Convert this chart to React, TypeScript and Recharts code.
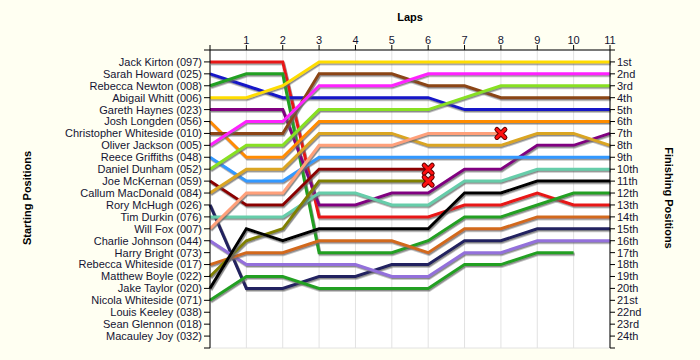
import React from "react";
import { CartesianGrid, Line, LineChart, XAxis, YAxis } from "recharts";

const laps = [0, 1, 2, 3, 4, 5, 6, 7, 8, 9, 10, 11];
const positionTicks = [0, 1, 2, 3, 4, 5, 6, 7, 8, 9, 10, 11, 12, 13, 14, 15, 16, 17, 18, 19, 20, 21, 22, 23, 24, 25];

const starters = [
  "Jack Kirton (097)", "Sarah Howard (025)", "Rebecca Newton (008)", "Abigail Whitt (006)",
  "Gareth Haynes (023)", "Josh Longden (056)", "Christopher Whiteside (010)", "Oliver Jackson (005)",
  "Reece Griffiths (048)", "Daniel Dunham (052)", "Joe McKernan (059)", "Callum MacDonald (084)",
  "Rory McHugh (026)", "Tim Durkin (076)", "Will Fox (007)", "Charlie Johnson (044)",
  "Harry Bright (073)", "Rebecca Whiteside (017)", "Matthew Boyle (022)", "Jake Taylor (020)",
  "Nicola Whiteside (071)", "Louis Keeley (038)", "Sean Glennon (018)", "Macauley Joy (032)",
];

const finishLabels = [
  "1st", "2nd", "3rd", "4th", "5th", "6th", "7th", "8th", "9th", "10th", "11th", "12th",
  "13th", "14th", "15th", "16th", "17th", "18th", "19th", "20th", "21st", "22nd", "23rd", "24th",
];

// position per lap (lap 0 = grid), null = not running
const jackKirton = [1, 1, 1, 14, 14, 14, 14, 13, 13, 12, 13, 13];
const sarahHoward = [2, 3, 4, 4, 4, 4, 4, 5, 5, 5, 5, 5];
const rebeccaNewton = [3, 2, 2, 17, 17, 17, 16, 14, 14, 13, 12, 12];
const abigailWhitt = [4, 4, 3, 1, 1, 1, 1, 1, 1, 1, 1, 1];
const garethHaynes = [5, 5, 5, 13, 13, 12, 12, 10, 10, 8, 8, 7];
const joshLongden = [6, 9, 9, 6, 6, 6, 6, 6, 6, 6, 6, 6];
const christopherWhiteside = [7, 7, 7, 2, 2, 2, 3, 3, 4, 4, 4, 4];
const oliverJackson = [8, 6, 6, 3, 3, 3, 2, 2, 2, 2, 2, 2];
const reeceGriffiths = [9, 11, 11, 9, 9, 9, 9, 9, 9, 9, 9, 9];
const danielDunham = [10, 8, 8, 5, 5, 5, 5, 4, 3, 3, 3, 3];
const joeMcKernan = [11, 13, 13, 10, 10, 10, 10, null, null, null, null, null];
const callumMacDonald = [12, 10, 10, 7, 7, 7, 8, 8, 8, 7, 7, 8];
const roryMcHugh = [13, 20, 20, 19, 19, 18, 18, 16, 16, 15, 15, 15];
const timDurkin = [14, 14, 14, 12, 12, 13, 13, 11, 11, 10, 10, 10];
const willFox = [15, 12, 12, 8, 8, 8, 7, 7, 7, null, null, null];
const charlieJohnson = [16, 18, 18, 18, 18, 19, 19, 17, 17, 16, 16, 16];
const rebeccaWhiteside = [18, 17, 17, 16, 16, 16, 17, 15, 15, 14, 14, 14];
const matthewBoyle = [19, 16, 15, 11, 11, 11, 11, null, null, null, null, null];
const jakeTaylor = [20, 15, 16, 15, 15, 15, 15, 12, 12, 11, 11, 11];
const nicolaWhiteside = [21, 19, 19, 20, 20, 20, 20, 18, 18, 17, 17, null];

const series = [
  { key: "jack", values: jackKirton, color: "#e81414", retired: -1 },
  { key: "sarah", values: sarahHoward, color: "#1414c8", retired: -1 },
  { key: "rebeccaN", values: rebeccaNewton, color: "#22a022", retired: -1 },
  { key: "abigail", values: abigailWhitt, color: "#ffdd00", retired: -1 },
  { key: "gareth", values: garethHaynes, color: "#800080", retired: -1 },
  { key: "josh", values: joshLongden, color: "#ff8c00", retired: -1 },
  { key: "christopher", values: christopherWhiteside, color: "#8b4513", retired: -1 },
  { key: "oliver", values: oliverJackson, color: "#ff22ff", retired: -1 },
  { key: "reece", values: reeceGriffiths, color: "#3399ff", retired: -1 },
  { key: "daniel", values: danielDunham, color: "#88e020", retired: -1 },
  { key: "joe", values: joeMcKernan, color: "#8b0000", retired: 6 },
  { key: "callum", values: callumMacDonald, color: "#daa520", retired: -1 },
  { key: "rory", values: roryMcHugh, color: "#202060", retired: -1 },
  { key: "tim", values: timDurkin, color: "#66cdaa", retired: -1 },
  { key: "will", values: willFox, color: "#ffa07a", retired: 8 },
  { key: "charlie", values: charlieJohnson, color: "#9370db", retired: -1 },
  { key: "rebeccaW", values: rebeccaWhiteside, color: "#d2691e", retired: -1 },
  { key: "matthew", values: matthewBoyle, color: "#808000", retired: 6 },
  { key: "jake", values: jakeTaylor, color: "#000000", retired: -1 },
  { key: "nicola", values: nicolaWhiteside, color: "#22a022", retired: -1 },
];

const data = laps.map((lap, i) => {
  const row: any = { lap };
  series.forEach((s) => { row[s.key] = s.values[i]; });
  return row;
});

const font = "'Liberation Sans', Arial, sans-serif";
const tickStyle = { fontSize: 11, fill: "#141432", fontFamily: font };

function RetiredMark({ cx, cy }: { cx: number; cy: number }) {
  const d = `M${cx - 4},${cy - 4}L${cx + 4},${cy + 4}M${cx + 4},${cy - 4}L${cx - 4},${cy + 4}`;
  return (
    <g>
      <path d={d} stroke="#600000" strokeWidth={5} strokeLinecap="round" />
      <path d={d} stroke="#ff1010" strokeWidth={3} strokeLinecap="round" />
    </g>
  );
}

export default function App() {
  return (
    <div style={{ position: "absolute", left: 0, top: 0, width: 700, height: 360, background: "#fffff2" }}>
      <LineChart width={700} height={360} data={data} margin={{ top: 0, right: 0, bottom: 12, left: 0 }}>
        <defs>
          <filter id="lineShadow" x="-10%" y="-10%" width="120%" height="130%">
            <feDropShadow dx="1" dy="1.5" stdDeviation="0.4" floodColor="#666" floodOpacity="0.75" />
          </filter>
        </defs>
        <CartesianGrid stroke="#e2e2e2" fill="#ffffff" />
        <XAxis
          dataKey="lap"
          type="number"
          orientation="top"
          domain={[0, 11]}
          ticks={laps}
          interval={0}
          height={50}
          tickSize={5}
          tickMargin={1}
          stroke="#000"
          tick={tickStyle}
          tickFormatter={(v) => (v === 0 ? "" : `${v}`)}
          label={{
            content: () => (
              <text x={410} y={21} textAnchor="middle" fontFamily={font} fontSize={11} fontWeight="bold" fill="#000">
                Laps
              </text>
            ),
          }}
        />
        <YAxis
          yAxisId="left"
          type="number"
          domain={[0, 25]}
          allowDataOverflow
          reversed
          ticks={positionTicks}
          interval={0}
          width={210}
          tickSize={6}
          tickMargin={2}
          stroke="#000"
          tick={tickStyle}
          tickFormatter={(v) => starters[v - 1] ?? ""}
          label={{
            content: () => (
              <text transform="translate(31,198) rotate(-90)" textAnchor="middle" fontFamily={font} fontSize={11} fontWeight="bold" fill="#000">
                Starting Positions
              </text>
            ),
          }}
        />
        <YAxis
          yAxisId="right"
          orientation="right"
          type="number"
          domain={[0, 25]}
          allowDataOverflow
          reversed
          ticks={positionTicks}
          interval={0}
          width={90}
          tickSize={5}
          tickMargin={2}
          stroke="#000"
          tick={tickStyle}
          tickFormatter={(v) => finishLabels[v - 1] ?? ""}
          label={{
            content: () => (
              <text transform="translate(665,198) rotate(90)" textAnchor="middle" fontFamily={font} fontSize={11} fontWeight="bold" fill="#000">
                Finishing Positions
              </text>
            ),
          }}
        />
        {series.map((s, i) => (
          <Line
            key={s.key}
            yAxisId={i === series.length - 1 ? "right" : "left"}
            type="linear"
            dataKey={s.key}
            stroke={s.color}
            strokeWidth={3}
            filter="url(#lineShadow)"
            isAnimationActive={false}
            activeDot={false}
            dot={(props: any) =>
              props.index === s.retired ? (
                <RetiredMark key={`${s.key}-x`} cx={props.cx} cy={props.cy} />
              ) : (
                <g key={`${s.key}-${props.index}`} />
              )
            }
          />
        ))}
      </LineChart>
    </div>
  );
}
